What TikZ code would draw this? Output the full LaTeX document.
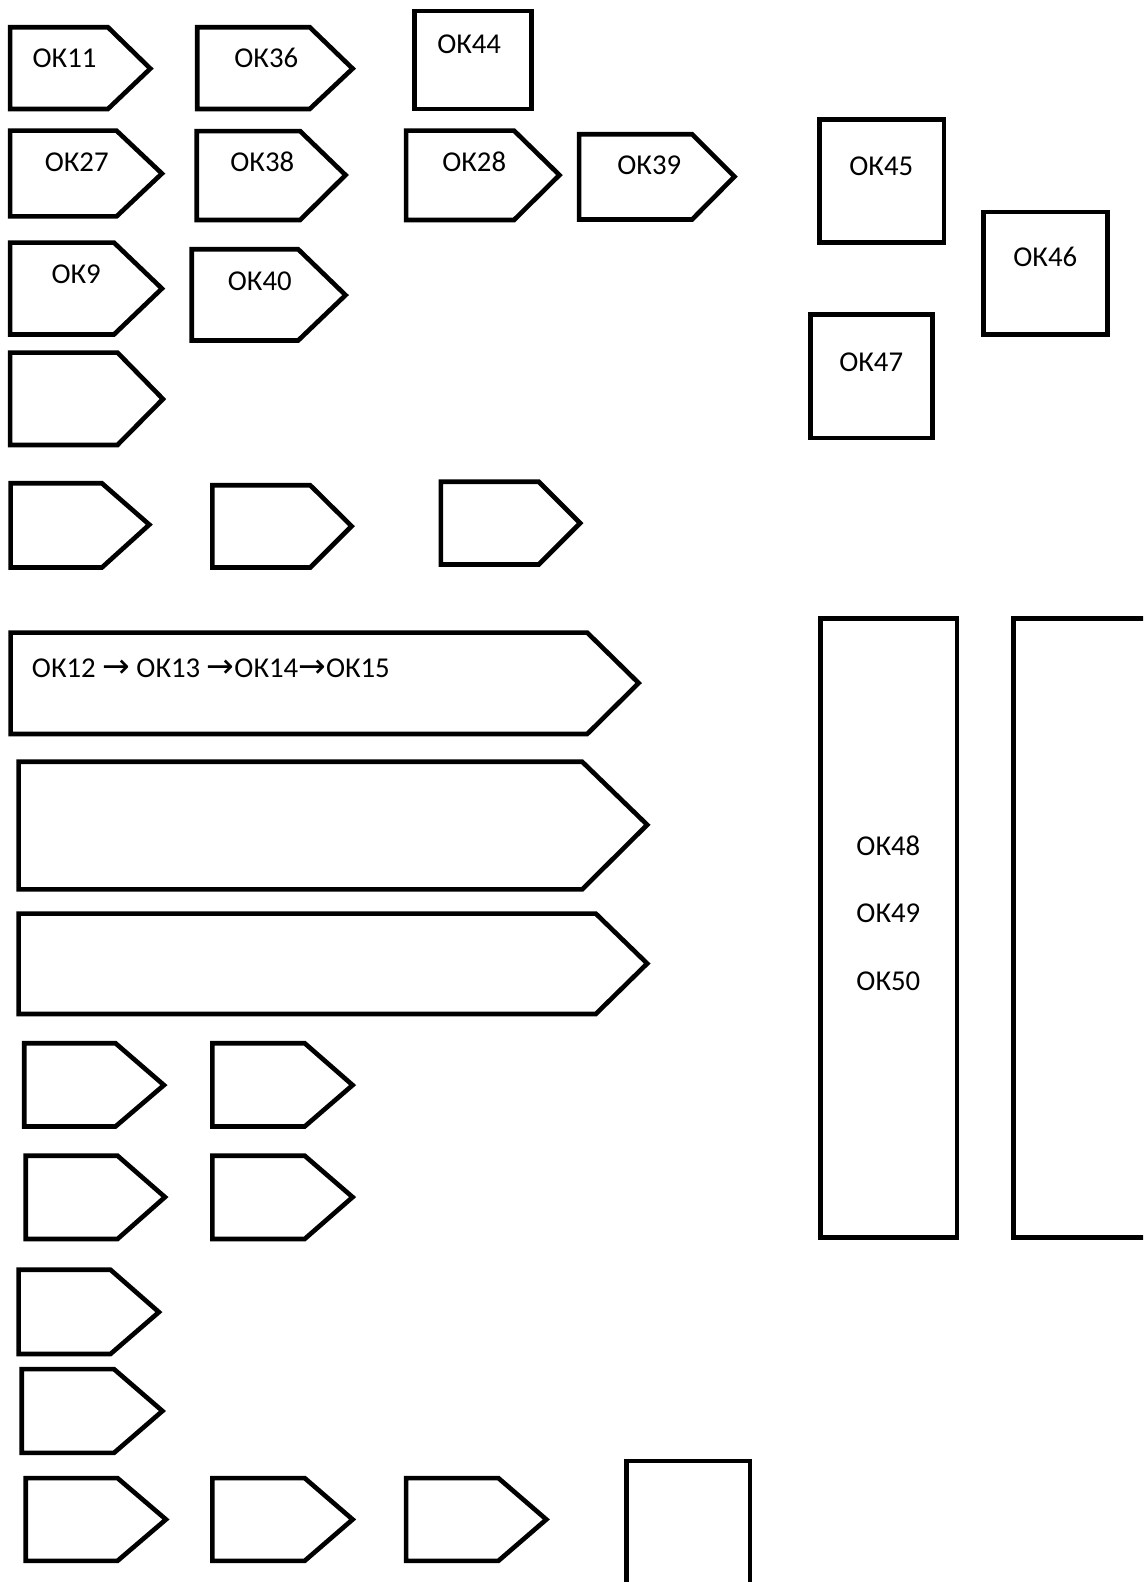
\documentclass[tikz,border=0pt]{standalone}
\usepackage{fontspec}
\setmainfont{Carlito}
\newfontfamily\arrowfont[Scale=1.15]{DejaVu Sans}
\tikzset{
  shapeline/.style={draw=black, line width=4.6pt, line join=miter, fill=white},
  lbl/.style={font=\fontsize{28.5}{34}\selectfont, inner sep=0pt, anchor=base},
}
% #1 left, #2 top, #3 bottom, #4 shoulder x, #5 tip x, #6 tip y
\newcommand\pentbox[6]{\draw[shapeline] (#1,#2) -- (#4,#2) -- (#5,#6) -- (#4,#3) -- (#1,#3) -- cycle;}
\newcommand\sqbox[4]{\draw[shapeline] (#1,#2) rectangle (#3,#4);}
\begin{document}
\begin{tikzpicture}[x=1pt,y=-1pt]
\useasboundingbox (0,0) rectangle (1133,1568);
\clip (0,0) rectangle (1133,1568);
% row 1
\pentbox{10}{27}{108}{107}{149}{68}
\pentbox{195.5}{27}{108}{307}{349.5}{68}
\sqbox{411}{11}{527}{108}
\node[lbl] (ok11) at (64,67) {ОК11};
\node[lbl] (ok36) at (264,66.5) {ОК36};
\node[lbl] (ok44) at (465,53) {ОК44};
% row 2
\pentbox{10}{129.5}{214.5}{115.5}{160.5}{172}
\pentbox{195}{130}{218}{297.5}{342.5}{173.5}
\pentbox{402.5}{129.5}{218}{509.5}{554.5}{173.5}
\pentbox{574}{133}{217.5}{686}{728}{175}
\sqbox{812}{118.5}{935.5}{240.5}
\sqbox{975}{210}{1097.5}{331.5}
\sqbox{803}{312}{924.5}{434}
\node[lbl] (ok27) at (76,169.5) {ОК27};
\node[lbl] (ok38) at (260,169.5) {ОК38};
\node[lbl] (ok28) at (470,169.5) {ОК28};
\node[lbl] (ok39) at (643.5,172.5) {ОК39};
\node[lbl] (ok45) at (873.5,173.5) {ОК45};
\node[lbl] (ok46) at (1036,264) {ОК46};
\node[lbl] (ok47) at (863.5,368) {ОК47};
% row 3
\pentbox{10}{240.5}{331.5}{113}{160.5}{286}
\pentbox{190}{247}{337.5}{295.5}{342.5}{292.5}
\node[lbl] (ok9) at (75.5,280.5) {ОК9};
\node[lbl] (ok40) at (257.5,287.5) {ОК40};
% row 4
\pentbox{10}{349.5}{441}{116.5}{161.5}{395.5}
% row 5
\pentbox{10.5}{479}{562.5}{101}{148}{520}
\pentbox{210.5}{481}{562.5}{307.5}{348.5}{521.5}
\pentbox{437}{477.5}{559.5}{534}{575}{518.5}
% big arrows
\pentbox{10.5}{627}{727.5}{582}{633}{677}
\pentbox{18.5}{755}{881.5}{577}{641.5}{817.5}
\pentbox{18.5}{905.5}{1005}{590.5}{641.5}{955}
\node[lbl, anchor=base west] (ok12) at (31.5,671.5)
  {ОК12 {\arrowfont →} ОК13 {\arrowfont →}ОК14{\arrowfont →}ОК15};
% tall rectangles
\sqbox{813}{613}{948.5}{1226.5}
\sqbox{1004.5}{613}{1160}{1226.5}
\node[lbl] (ok48) at (880.5,848) {ОК48};
\node[lbl] (ok49) at (880.5,914.5) {ОК49};
\node[lbl] (ok50) at (880.5,982) {ОК50};
% bottom rows
\pentbox{24}{1034}{1116.5}{114.5}{162.5}{1075.5}
\pentbox{210.5}{1034}{1116.5}{302}{349.5}{1075.5}
\pentbox{25.5}{1145.5}{1228}{116.5}{163.5}{1186.5}
\pentbox{210.5}{1145.5}{1228}{302}{349.5}{1186.5}
\pentbox{18.5}{1258.5}{1342}{109.5}{157.5}{1300.5}
\pentbox{21.5}{1357}{1440}{113}{161}{1398.5}
\pentbox{25.5}{1465}{1547}{116.5}{164.5}{1506}
\pentbox{210.5}{1465}{1547}{302}{349.5}{1506}
\pentbox{402.5}{1465}{1547}{494}{541.5}{1506}
\sqbox{621}{1448}{743.5}{1600}
\end{tikzpicture}
\end{document}
